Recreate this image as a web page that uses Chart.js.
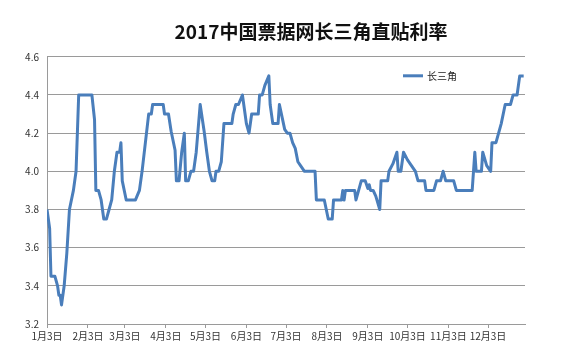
<!DOCTYPE html>
<html><head><meta charset="utf-8">
<script src="https://cdn.jsdelivr.net/npm/chart.js@4.4.0/dist/chart.umd.min.js"></script>
<style>
html,body{margin:0;padding:0;overflow:hidden;background:#fff;width:569px;height:357px}
#wrap{position:absolute;left:0;top:0;width:622px;height:357px}
</style>
</head><body><div id="wrap"><canvas id="c" width="622" height="357"></canvas></div>
<script>
const chartTitle = '2017中国票据网长三角直贴利率';
const seriesName = '长三角';
const dates = ['1/3','1/5','1/6','1/9','1/11','1/12','1/13','1/14','1/16','1/18','1/20','1/23','1/25','1/27',
 '2/6','2/8','2/9','2/11','2/13','2/15','2/17','2/19','2/21','2/23','2/25','2/27','2/28',
 '3/1','3/4','3/11','3/14','3/16','3/21','3/23','3/24',
 '4/1','4/2','4/5','4/7','4/10','4/11','4/13','4/15','4/17','4/18','4/20','4/22','4/24','4/26','4/29',
 '5/2','5/4','5/6','5/8','5/10','5/11','5/13','5/15','5/17','5/23','5/24','5/26','5/28','5/31',
 '6/2','6/3','6/5','6/7','6/12','6/13','6/15','6/17','6/20','6/21','6/23','6/27','6/28',
 '7/2','7/4','7/6','7/8','7/10','7/12','7/14','7/17','7/25','7/26',
 '8/1','8/4','8/7','8/8','8/14','8/15','8/16','8/17','8/24','8/25','8/27','8/29',
 '9/1','9/3','9/4','9/5','9/7','9/9','9/12','9/13','9/18','9/19','9/22','9/25','9/26','9/28','9/30',
 '10/3','10/6','10/9','10/11','10/16','10/17','10/23','10/25','10/28','10/30',
 '11/1','11/7','11/9','11/21','11/23','11/24','11/28','11/29',
 '12/2','12/5','12/6','12/9','12/11','12/13','12/16','12/20','12/22','12/25','12/27','12/30'];
const rates = [3.80,3.70,3.45,3.45,3.40,3.35,3.35,3.30,3.40,3.57,3.80,3.90,4.00,4.40,
 4.40,4.27,3.90,3.90,3.85,3.75,3.75,3.80,3.85,4.00,4.10,4.10,4.15,
 3.95,3.85,3.85,3.90,4.00,4.30,4.30,4.35,
 4.35,4.30,4.30,4.21,4.11,3.95,3.95,4.10,4.20,3.95,3.95,4.00,4.00,4.10,4.35,
 4.21,4.10,4.00,3.95,3.95,4.00,4.00,4.05,4.25,4.25,4.30,4.35,4.35,4.40,
 4.30,4.25,4.20,4.30,4.30,4.40,4.40,4.45,4.50,4.35,4.25,4.25,4.35,
 4.22,4.20,4.20,4.15,4.12,4.05,4.03,4.00,4.00,3.85,
 3.85,3.75,3.75,3.85,3.85,3.90,3.85,3.90,3.90,3.85,3.90,3.95,
 3.95,3.91,3.93,3.90,3.90,3.87,3.80,3.95,3.95,4.00,4.04,4.10,4.00,4.00,4.10,
 4.06,4.03,4.00,3.95,3.95,3.90,3.90,3.95,3.95,4.00,
 3.95,3.95,3.90,3.90,4.10,4.00,4.00,4.10,
 4.03,4.00,4.15,4.15,4.20,4.25,4.35,4.35,4.40,4.40,4.50,4.50];
const tickDates = ['1/3','2/3','3/3','4/3','5/3','6/3','7/3','8/3','9/3','10/3','11/3','12/3'];
const tickLabels = ['1月3日','2月3日','3月3日','4月3日','5月3日','6月3日','7月3日','8月3日','9月3日','10月3日','11月3日','12月3日'];
const startDate = '1/3', endDate = '12/31';
const yMin = 3.2, yMax = 4.6, yStep = 0.2;

const lineColor = '#4A7EBB';
const gridColor = '#9a9a9a';
const textColor = '#333333';
const cjk = '"Noto Sans CJK SC", "Noto Sans", sans-serif';

function dayOffset(s){
  const [m,d] = s.split('/').map(Number);
  const [m0,d0] = startDate.split('/').map(Number);
  return (Date.UTC(2017,m-1,d) - Date.UTC(2017,m0-1,d0)) / 86400000;
}
const points = dates.map((d,i)=>({x: dayOffset(d), y: rates[i]}));
const tickValues = tickDates.map(dayOffset);

const legendPlugin = {
  id: 'insideLegend',
  afterDraw(chart){
    const {ctx, chartArea:a} = chart;
    const x = a.right - 122, y = a.top + 19;
    ctx.save();
    ctx.strokeStyle = lineColor; ctx.lineWidth = 3;
    ctx.beginPath(); ctx.moveTo(x, y); ctx.lineTo(x + 20, y); ctx.stroke();
    ctx.fillStyle = '#222'; ctx.font = '10px ' + cjk; ctx.textBaseline = 'middle'; ctx.textAlign = 'left';
    ctx.fillText(seriesName, x + 24, y);
    ctx.restore();
  }
};

new Chart(document.getElementById('c'), {
  type: 'line',
  data: { datasets: [{
    label: seriesName, data: points, borderColor: lineColor, backgroundColor: lineColor,
    borderWidth: 3, pointRadius: 0, tension: 0, fill: false, borderJoinStyle: 'round'
  }]},
  options: {
    responsive: false, animation: false, devicePixelRatio: 1,
    layout: { padding: 0 },
    plugins: {
      legend: { display: false },
      tooltip: { enabled: false },
      title: { display: true, text: chartTitle, color: '#111',
        font: { family: cjk, size: 19, weight: 'bold' }, padding: { top: 20, bottom: 14 } }
    },
    scales: {
      x: {
        type: 'linear', min: 0, max: dayOffset(endDate),
        afterBuildTicks(scale){ scale.ticks = tickValues.map(v=>({value:v})); },
        afterFit(scale){ scale.height = 33; },
        ticks: { autoSkip: false, maxRotation: 0, color: textColor, padding: 2,
          font: { family: cjk, size: 10 },
          callback(v){ const i = tickValues.indexOf(v); return i >= 0 ? tickLabels[i] : ''; } },
        grid: { drawOnChartArea: false, drawTicks: true, tickLength: 4, color: gridColor },
        border: { display: true, color: gridColor }
      },
      y: {
        min: yMin, max: yMax,
        afterFit(scale){ scale.width = 47; },
        ticks: { stepSize: yStep, color: textColor, padding: 8, font: { family: cjk, size: 10 } },
        grid: { color: gridColor, drawTicks: false },
        border: { display: true, color: gridColor }
      },
      spacer: {
        type: 'linear', position: 'right', display: true, min: 0, max: 1,
        afterFit(scale){ scale.width = 97; },
        ticks: { display: false },
        grid: { display: false, drawTicks: false },
        border: { display: false }
      }
    }
  },
  plugins: [legendPlugin]
});
</script></body></html>
